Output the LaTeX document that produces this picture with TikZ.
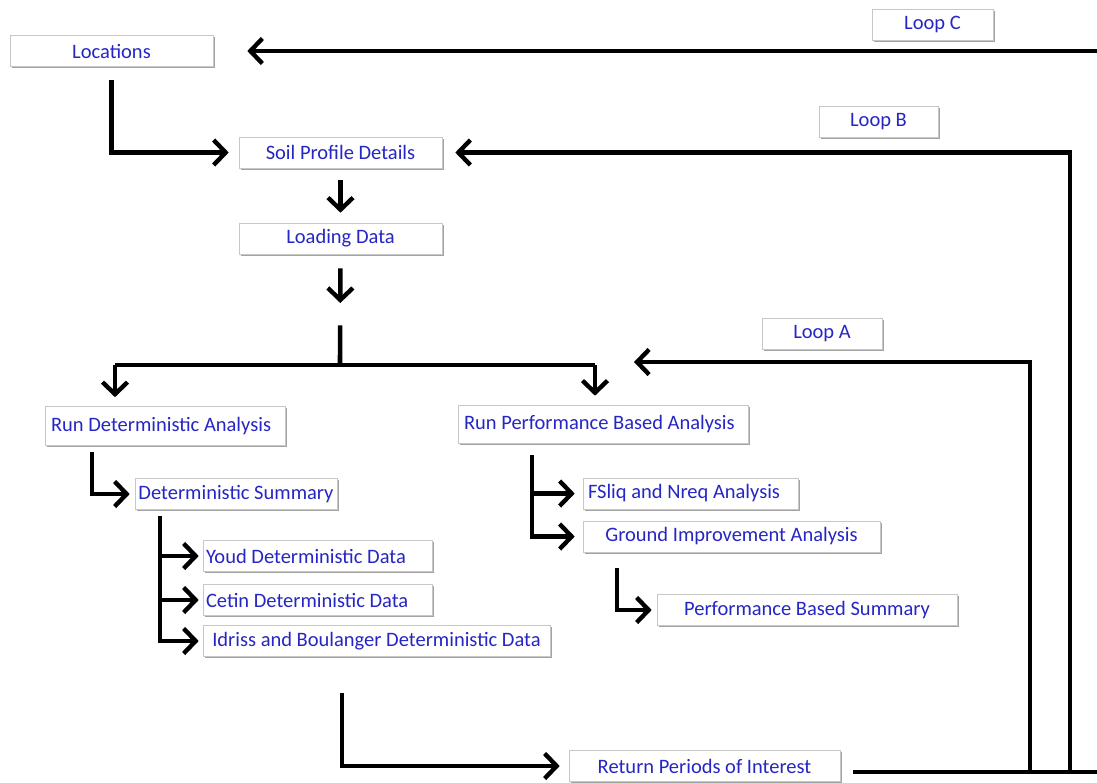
\documentclass[tikz,border=0pt]{standalone}
\usepackage{fontspec}
\setmainfont{Carlito}
\usetikzlibrary{arrows.meta,positioning,calc,shadows}

\definecolor{boxblue}{RGB}{38,38,196}

\begin{document}
\begin{tikzpicture}[
  x=1pt, y=-1pt,
  font=\fontsize{20.5}{24}\selectfont,
  box/.style={
    draw=black!22,
    fill=white,
    text=boxblue,
    line width=0.6pt,
    minimum height=31pt,
    inner sep=3pt,
    drop shadow={shadow xshift=1.6pt, shadow yshift=-1.6pt, fill=black!45, opacity=0.8}
  },
  leftbox/.style={box, align=flush left},
  arr/.style={-{Straight Barb[length=12pt, width=25pt, line width=4.4pt]}, line width=4.6pt, draw=black},
  ln/.style={line width=4.6pt, draw=black}
]

\useasboundingbox (0,0) rectangle (1097,782);

% boxes
\node[box, minimum width=203pt] (loc) at (111.5,51) {Locations};
\node[box, minimum width=121pt] (loopC) at (932.5,24.5) {Loop C};
\node[box, minimum width=119pt] (loopB) at (878.5,121.5) {Loop B};
\node[box, minimum width=120pt] (loopA) at (822,334) {Loop A};
\node[box, minimum width=203pt] (soil) at (340.5,152.5) {Soil Profile Details};
\node[box, minimum width=203pt] (load) at (340.5,238.5) {Loading Data};
\node[leftbox, minimum width=240pt, minimum height=39pt, text width=228pt] (rda) at (165,426) {Run Deterministic Analysis};
\node[leftbox, minimum width=290pt, minimum height=38pt, text width=278pt] (rpba) at (603,424) {Run Performance Based Analysis\\[3pt]};
\node[box, minimum width=202pt] (dsum) at (236,494) {Deterministic Summary};
\node[leftbox, minimum width=229pt, text width=223pt] (youd) at (317.5,556) {Youd Deterministic Data};
\node[leftbox, minimum width=229pt, text width=223pt] (cetin) at (317.5,600) {Cetin Deterministic Data};
\node[box, minimum width=347pt] (idriss) at (376.5,641) {Idriss and Boulanger Deterministic Data};
\node[leftbox, minimum width=215pt, text width=205pt] (fsliq) at (690.5,493.5) {FSliq and Nreq Analysis};
\node[box, minimum width=297pt] (gia) at (731.5,536.5) {Ground Improvement Analysis};
\node[box, minimum width=300pt] (pbs) at (807,610) {Performance Based Summary};
\node[box, minimum width=271pt] (rpi) at (704.5,766) {Return Periods of Interest};

% bends and junctions
\coordinate (fork) at (340,365);
\coordinate (dl) at (115,365);
\coordinate (dr) at (595,365);
\coordinate (dturn) at (92,452);
\coordinate (dtrunk) at (160,516);
\coordinate (ptrunk) at (532,455);
\coordinate (gturn) at (617,568);
\coordinate (iturn) at (342,693);
\coordinate (retA) at (1030,772);
\coordinate (retB) at (1070,772);
\coordinate (retC) at (1100,772);
\coordinate (inA) at (634,362);
\coordinate (edge) at (1100,772);

% main flow
\draw[arr, shorten <=13pt, shorten >=10pt] (loc.south) |- (soil.west);
\draw[arr, shorten <=12pt, shorten >=10pt] (soil.south) -- (load.north);
\draw[arr, shorten <=14pt, shorten >=62pt] (load.south) -- (fork);
\draw[ln, shorten <=71pt] (load.south) -- (fork);
\draw[ln] (dl) -- (dr);
\draw[arr, shorten >=9pt] (dl) -- (dl |- rda.north);
\draw[arr, shorten >=9pt] (dr) -- (dr |- rpba.north);

% deterministic branch
\draw[arr, shorten >=5pt] (dturn) |- (dsum.west);
\foreach \n in {youd,cetin,idriss}
  \draw[arr, shorten >=4pt] (dtrunk) |- (\n.west);

% performance branch
\foreach \n in {fsliq,gia}
  \draw[arr, shorten >=8pt] (ptrunk) |- (\n.west);
\draw[arr, shorten >=5pt] (gturn) |- (pbs.west);

% return periods and loops
\draw[arr, shorten >=9pt] (iturn) |- (rpi.west);
\draw[ln] ([xshift=13pt]rpi.east |- edge) -- (edge);
\draw[arr] (retA) |- (inA);
\draw[arr, shorten >=13pt] (retB) |- (soil.east);
\draw[arr, shorten >=34pt] (retC) |- (loc.east);

\end{tikzpicture}
\end{document}
